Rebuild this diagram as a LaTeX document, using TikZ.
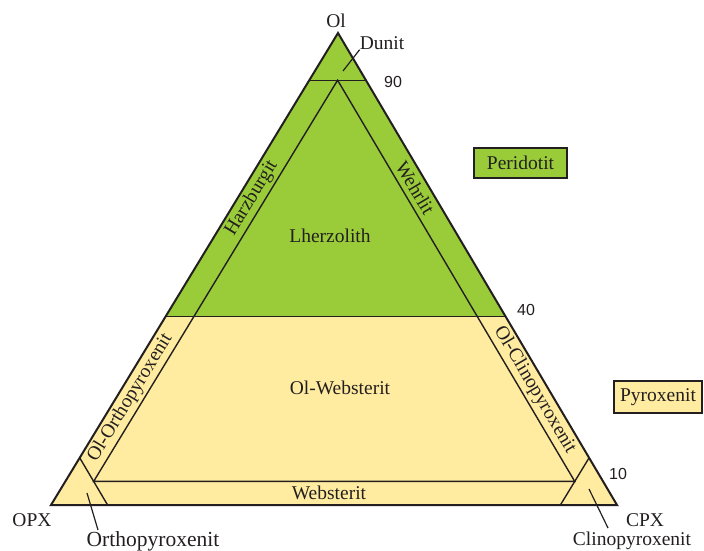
\documentclass[tikz,border=0pt]{standalone}
\usepackage{fontspec}
\setmainfont{Liberation Serif}
\newfontfamily\numfont{Liberation Sans}
\usetikzlibrary{calc}
\definecolor{perigreen}{RGB}{154,204,58}
\definecolor{pyroyellow}{RGB}{255,236,160}
\definecolor{ink}{RGB}{35,31,32}
\tikzset{
  lbl/.style={font=\fontsize{19.5}{20}\selectfont, text=ink, inner sep=0pt},
  biglbl/.style={font=\fontsize{21.5}{22}\selectfont, text=ink, inner sep=0pt},
  num/.style={font=\numfont\fontsize{16}{18}\selectfont, text=ink, inner sep=0pt},
  boundary/.style={draw=ink, line width=1.4pt},
  outline/.style={draw=ink, line width=2pt, line join=miter},
  leader/.style={draw=ink, line width=1.2pt},
  legendbox/.style={draw=ink, line width=1.5pt, inner sep=0pt, font=\fontsize{19.5}{20}\selectfont, text=ink}
}
\begin{document}
\begin{tikzpicture}[x=1pt,y=-1pt]
\useasboundingbox (0,0) rectangle (704,551);
% vertices
\coordinate (A) at (338,33);
\coordinate (B) at (51,505);
\coordinate (C) at (617,505);
% key points
\coordinate (n90L) at (barycentric cs:A=0.9,B=0.1,C=0);
\coordinate (n90R) at (barycentric cs:A=0.9,B=0,C=0.1);
\coordinate (n90M) at (barycentric cs:A=0.9,B=0.05,C=0.05);
\coordinate (n40L) at (barycentric cs:A=0.4,B=0.6,C=0);
\coordinate (n40R) at (barycentric cs:A=0.4,B=0,C=0.6);
\coordinate (n5L) at (barycentric cs:A=0.05,B=0.9,C=0.05);
\coordinate (n5R) at (barycentric cs:A=0.05,B=0.05,C=0.9);
\coordinate (n10L) at (barycentric cs:A=0.1,B=0.9,C=0);
\coordinate (b90O) at (barycentric cs:A=0,B=0.9,C=0.1);
\coordinate (n10R) at (barycentric cs:A=0.1,B=0,C=0.9);
\coordinate (b90C) at (barycentric cs:A=0,B=0.1,C=0.9);
% fills
\fill[perigreen] (A) -- (n40L) -- (n40R) -- cycle;
\fill[pyroyellow] (n40L) -- (B) -- (C) -- (n40R) -- cycle;
% boundaries
\draw[boundary] (n90L) -- (n90R);
\draw[boundary] (n40L) -- (n40R);
\draw[boundary] (n90M) -- (n5L) -- (n5R) -- cycle;
\draw[boundary] (n10L) -- (b90O);
\draw[boundary] (n10R) -- (b90C);
\draw[outline] (A) -- (B) -- (C) -- cycle;
% labels
\node[lbl, anchor=south] (lOl) at (336,28) {Ol};
\node[lbl] (lDunit) at (382,43) {Dunit};
\coordinate (dunitpt) at (343,71);
\draw[leader] (dunitpt) -- (lDunit.south west);
\node[num] (l90) at (393,82) {90};
\node[num] (l40) at (526,310) {40};
\node[num] (l10) at (618,474) {10};
\node[lbl, rotate=58.7] (lHarz) at (barycentric cs:A=0.65,B=0.325,C=0.025) {Harzburgit};
\node[lbl, rotate=-59.4] (lWehr) at (barycentric cs:A=0.672,B=0.025,C=0.303) {Wehrlit};
\node[lbl] (lLherz) at (330,236) {Lherzolith};
\node[lbl, rotate=58.7] (lOlOrtho) at (barycentric cs:A=0.227,B=0.748,C=0.025) {Ol-Orthopyroxenit};
\node[lbl, rotate=-59.4] (lOlClino) at (barycentric cs:A=0.244,B=0.025,C=0.731) {Ol-Clinopyroxenit};
\node[lbl] (lOlWeb) at (340,388) {Ol-Websterit};
\node[lbl] (lWeb) at (329,493) {Websterit};
\node[lbl] (lOPX) at (32,520) {OPX};
\node[lbl] (lCPX) at (645,520) {CPX};
\node[biglbl] (lOrtho) at (153,541) {Orthopyroxenit};
\node[lbl] (lClino) at (632,541) {Clinopyroxenit};
\coordinate (orthopt) at (87,493);
\coordinate (clinopt) at (589,489);
\draw[leader] (orthopt) -- (98,530);
\draw[leader] (clinopt) -- (608,528);
% legend
\node[legendbox, fill=perigreen, minimum width=93, minimum height=30] (peri) at (520.5,163) {Peridotit};
\node[legendbox, fill=pyroyellow, minimum width=88, minimum height=32] (pyro) at (658,397) {Pyroxenit};
\end{tikzpicture}
\end{document}
